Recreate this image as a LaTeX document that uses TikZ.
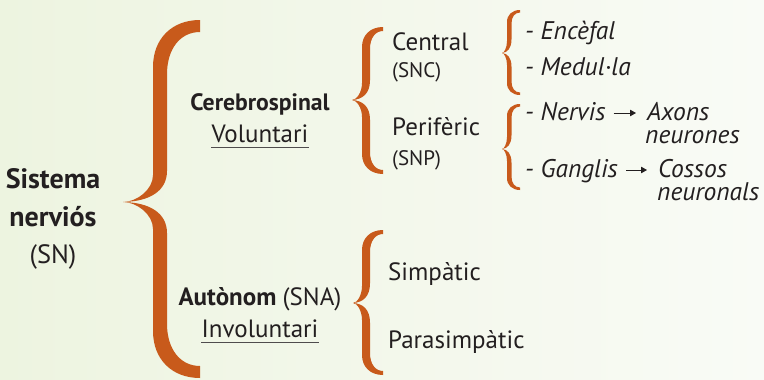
\documentclass[tikz,border=0pt]{standalone}
\usepackage{fontspec}
\setmainfont{PT Sans}
\usetikzlibrary{arrows.meta}
\definecolor{brc}{HTML}{C85A1B}
\definecolor{txt}{HTML}{231F20}
\definecolor{bgl}{HTML}{EDF4E0}
\definecolor{bgr}{HTML}{F9FBF6}
% brace: #1 tip x, #2 outer x, #3 inner x, #4 end x, #5 top y, #6 mid y, #7 bottom y, #8 end thickness
% uses \brC (end curve length) and \brK (tip curve length)
\newcommand\fillbrace[8]{%
  \pgfmathsetmacro\brKi{1.15*\brK}%
  \pgfmathsetmacro\brCi{0.9*\brC}%
  \fill[brc] (#4,#5)
    .. controls ({#2+0.4*(#4-#2)},#5) and (#2,{#5+0.4*\brC}) .. (#2,{#5+\brC})
    -- (#2,{#6-\brK})
    .. controls (#2,{#6-0.45*\brK}) and ({#1+0.45*(#2-#1)},#6) .. (#1,#6)
    .. controls ({#1+0.45*(#2-#1)},#6) and (#2,{#6+0.45*\brK}) .. (#2,{#6+\brK})
    -- (#2,{#7-\brC})
    .. controls (#2,{#7-0.4*\brC}) and ({#2+0.4*(#4-#2)},#7) .. (#4,#7)
    -- (#4,{#7-#8})
    .. controls ({#3+0.4*(#4-#3)},{#7-#8}) and (#3,{#7-#8-0.4*\brCi}) .. (#3,{#7-#8-\brCi})
    -- (#3,{#6+\brKi})
    .. controls (#3,{#6+0.35*\brKi}) and ({#1+0.6*(#3-#1)},{#6+0.5}) .. (#1,#6)
    .. controls ({#1+0.6*(#3-#1)},{#6-0.5}) and (#3,{#6-0.35*\brKi}) .. (#3,{#6-\brKi})
    -- (#3,{#5+#8+\brCi})
    .. controls (#3,{#5+#8+0.4*\brCi}) and ({#3+0.4*(#4-#3)},{#5+#8}) .. (#4,{#5+#8})
    -- cycle;}
\begin{document}
\begin{tikzpicture}[x=1pt,y=-1pt,
  t/.style={inner sep=0pt, text=txt, font=\fontsize{25}{30}\selectfont},
  tb/.style={t, font=\fontsize{23.7}{28}\bfseries\selectfont},
  tbig/.style={t, font=\fontsize{28}{32}\bfseries\selectfont},
  tsn/.style={t, font=\fontsize{26.5}{32}\selectfont},
  tsm/.style={t, font=\fontsize{21}{26}\selectfont},
  ti/.style={t, font=\fontsize{25.5}{30}\itshape\selectfont},
  ul/.style={draw=txt!80, line width=0.9pt},
  arr/.style={draw=txt, line width=1pt, -{Triangle[length=6pt,width=6.5pt]}}]
\shade[left color=bgl, right color=bgr] (0,0) rectangle (764,380);
\useasboundingbox (0,0) rectangle (764,380);

% braces
\def\brC{47}\def\brK{27}
\fillbrace{123}{153}{167}{200}{20}{202}{378}{12}
\def\brC{20}\def\brK{17}
\fillbrace{352}{362}{370}{383}{27}{100}{174}{4}
\fillbrace{353}{362}{370}{383}{230}{303}{375}{4}
\def\brC{12}\def\brK{12}
\fillbrace{502}{507}{511.5}{520}{10}{53}{95}{2.5}
\fillbrace{502}{507}{511.5}{520}{104}{149}{190}{2.5}

% root
\node[tbig, anchor=base] (sis) at (53,188) {Sistema};
\node[tbig, anchor=base] (ner) at (53,226) {nerviós};
\node[tsn, anchor=base] (sn) at (53,263) {(SN)};

% level 1
\node[tb, anchor=base] (cer) at (260,110) {Cerebrospinal};
\node[t, anchor=base] (vol) at (260,142) {Voluntari};
\draw[ul] ([yshift=-5pt]vol.base west) -- ([yshift=-5pt]vol.base east);
\node[t, anchor=base] (aut) at (260,305) {\bfseries Autònom \mdseries(SNA)};
\node[t, anchor=base] (inv) at (260,337) {Involuntari};
\draw[ul] ([yshift=-5pt]inv.base west) -- ([yshift=-5pt]inv.base east);

% level 2
\node[t, anchor=base west] (cen) at (392,50) {Central};
\node[tsm, anchor=base west] (snc) at (392,77) {(SNC)};
\node[t, anchor=base west] (per) at (392,135) {Perifèric};
\node[tsm, anchor=base west] (snp) at (392,165) {(SNP)};
\node[t, anchor=base west] (sim) at (388,280) {Simpàtic};
\node[t, anchor=base west] (par) at (388,348) {Parasimpàtic};

% level 3
\node[ti, anchor=base west] (enc) at (525,39) {- Encèfal};
\node[ti, anchor=base west] (med) at (525,75) {- Medul·la};
\node[ti, anchor=base west] (nerv) at (525,120) {- Nervis};
\node[ti, anchor=base west] (axo) at (647,120) {Axons};
\node[ti, anchor=base west] (neu) at (645,143) {neurones};
\node[ti, anchor=base west] (gan) at (525,177) {- Ganglis};
\node[ti, anchor=base west] (cos) at (658,177) {Cossos};
\node[ti, anchor=base west] (neu2) at (657,200) {neuronals};
\draw[arr] ([xshift=8pt,yshift=7pt]nerv.base east) -- ([xshift=-11pt,yshift=7pt]axo.base west);
\draw[arr] ([xshift=8pt,yshift=7pt]gan.base east) -- ([xshift=-11pt,yshift=7pt]cos.base west);
\end{tikzpicture}
\end{document}
